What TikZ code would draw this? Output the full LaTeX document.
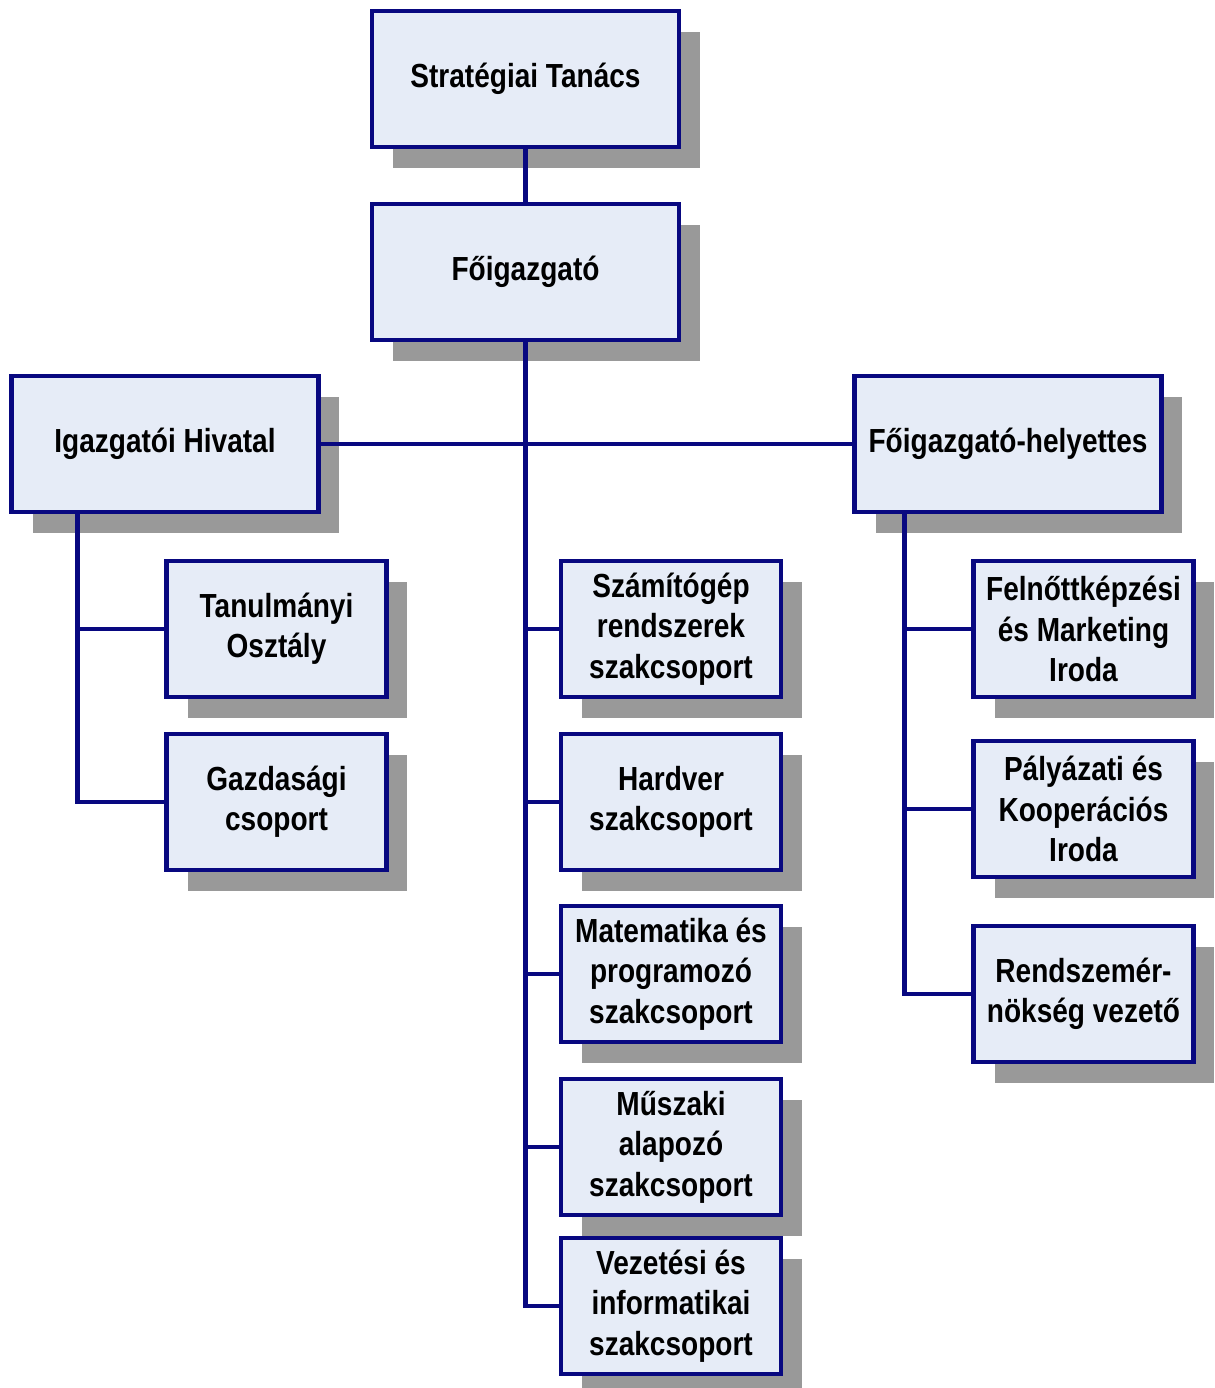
\documentclass[tikz,border=0pt]{standalone}
\usepackage{fontspec}
\setmainfont{Liberation Sans}[FakeStretch=0.84]
\usetikzlibrary{shadows}
\definecolor{boxline}{RGB}{8,8,128}
\definecolor{boxfill}{RGB}{230,236,247}
\definecolor{boxshadow}{RGB}{153,153,153}

\begin{document}
\begin{tikzpicture}[
        x=0.02cm, y=-0.02cm,
        every node/.style={font=\fontsize{19}{23}\selectfont\bfseries},
        unit/.style={draw=boxline, line width=2.4pt, fill=boxfill, align=center,
                     inner sep=0pt, minimum height=2.72cm,
                     drop shadow={shadow xshift=0.42cm, shadow yshift=-0.42cm,
                                  fill=boxshadow, opacity=1}},
        bigunit/.style={unit, minimum width=6.14cm},
        smallunit/.style={unit, minimum width=4.4cm},
        link/.style={draw=boxline, line width=2.4pt}
    ]
	\useasboundingbox (0,0) rectangle (1214,1388);
	% vezetés
	\node[bigunit] (strat) at (525.5,79) {Stratégiai Tanács};
	\node[bigunit] (fo) at (525.5,272) {Főigazgató};
	\node[bigunit] (ih) at (165,444) {Igazgatói Hivatal};
	\node[bigunit] (fh) at (1008,444) {Főigazgató-helyettes};
	% igazgatói hivatal alatt
	\node[smallunit] (tan) at (276.5,629) {Tanulmányi\\Osztály};
	\node[smallunit] (gaz) at (276.5,802) {Gazdasági\\csoport};
	% szakcsoportok
	\foreach \y/\n/\t in {629/szam/{Számítógép\\rendszerek\\szakcsoport},
	                      802/hard/{Hardver\\szakcsoport},
	                      974/mat/{Matematika és\\programozó\\szakcsoport},
	                      1147/musz/{Műszaki\\alapozó\\szakcsoport},
	                      1306/vez/{Vezetési és\\informatikai\\szakcsoport}}
		{
		   \node[smallunit] (\n) at (671,\y) {\t};
		};
	% helyettes alatt
	\node[smallunit] (feln) at (1083.5,629) {Felnőttképzési\\és Marketing\\Iroda};
	\node[smallunit] (paly) at (1083.5,809) {Pályázati és\\Kooperációs\\Iroda};
	\node[smallunit] (rend) at (1083.5,994) {Rendszemér-\\nökség vezető};
	% kapcsolatok
	\draw[link] (strat) -- (fo);
	\draw[link] (ih) -- (fh);
	\foreach \n in {szam,hard,mat,musz,vez}
		{
		  \draw[link] (fo.south) |- (\n.west);
		};
	\foreach \n in {tan,gaz}
		{
		  \draw[link] (ih.south west) ++(68,0) |- (\n.west);
		};
	\foreach \n in {feln,paly,rend}
		{
		  \draw[link] (fh.south west) ++(52,0) |- (\n.west);
		};
\end{tikzpicture}
\end{document}
